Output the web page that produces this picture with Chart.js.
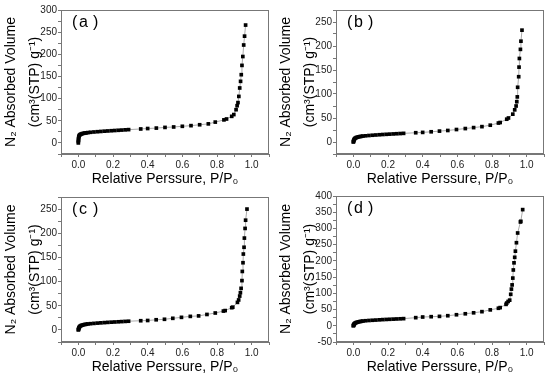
<!DOCTYPE html>
<html>
<head>
<meta charset="utf-8">
<script src="https://cdn.jsdelivr.net/npm/chart.js@4.4.0/dist/chart.umd.min.js"></script>
<style>
body { margin: 0; background: #fff; }
#wrap { position: relative; width: 550px; height: 377px; }
canvas { position: absolute; }
</style>
</head>
<body>
<div id="wrap">
  <canvas id="pa" width="275" height="189" style="left:0;top:0"></canvas>
  <canvas id="pb" width="275" height="189" style="left:275px;top:0"></canvas>
  <canvas id="pc" width="275" height="188" style="left:0;top:189px"></canvas>
  <canvas id="pd" width="275" height="188" style="left:275px;top:189px"></canvas>
</div>
<script>
// relative pressure P/P0 and adsorbed volume for each sample
var xA = [0, 0, 0.001, 0.001, 0.002, 0.003, 0.005, 0.008, 0.012, 0.017, 0.023, 0.03, 0.038, 0.046, 0.055,
  0.07, 0.09, 0.11, 0.13, 0.15, 0.17, 0.19, 0.21, 0.23, 0.25, 0.27, 0.29, 0.36, 0.40, 0.45, 0.50, 0.55,
  0.60, 0.65, 0.70, 0.75, 0.79, 0.84, 0.855, 0.885, 0.897, 0.91, 0.916, 0.921, 0.926, 0.931, 0.936,
  0.94, 0.944, 0.949, 0.954, 0.959, 0.965];
var yA = [0, 3, 6, 9, 12, 14.5, 16.5, 18, 19.2, 20.2, 21, 21.7, 22.3, 22.8, 23.3,
  24, 24.7, 25.3, 25.9, 26.5, 27, 27.5, 28, 28.5, 29, 29.5, 30, 31.5, 32.5, 33.5, 35, 36,
  37.5, 39, 41, 43, 47, 52, 54, 60, 64, 75, 84, 91, 105, 124, 139,
  154, 175, 195, 221, 241, 266];

var xB = [0, 0.001, 0.002, 0.003, 0.005, 0.008, 0.012, 0.017, 0.023, 0.03, 0.038, 0.046, 0.055,
  0.07, 0.09, 0.11, 0.13, 0.15, 0.17, 0.19, 0.21, 0.23, 0.25, 0.27, 0.29, 0.36, 0.40, 0.449, 0.497,
  0.545, 0.595, 0.646, 0.694, 0.742, 0.79, 0.837, 0.847, 0.885, 0.895, 0.92, 0.931, 0.939, 0.943,
  0.946, 0.948, 0.954, 0.956, 0.958, 0.964, 0.967, 0.973];
var yB = [0, 1.2, 2.5, 4, 5.5, 7, 8.2, 9.2, 10, 10.7, 11.3, 11.8, 12.3,
  12.9, 13.5, 14.1, 14.6, 15.1, 15.6, 16, 16.4, 16.8, 17.2, 17.6, 18, 19.3, 20, 21.3, 22.7,
  24, 26, 28, 30, 32, 35, 39.5, 40.6, 47.5, 50, 58, 67, 75, 84,
  94, 114, 136, 156, 174, 193, 210, 233];

var xC = [0, 0.001, 0.002, 0.003, 0.005, 0.008, 0.012, 0.017, 0.023, 0.03, 0.038, 0.046, 0.055,
  0.07, 0.09, 0.11, 0.13, 0.15, 0.17, 0.19, 0.21, 0.23, 0.25, 0.27, 0.29, 0.36, 0.40, 0.449, 0.497,
  0.545, 0.595, 0.646, 0.694, 0.742, 0.79, 0.837, 0.847, 0.885, 0.891, 0.918, 0.925, 0.931, 0.935,
  0.939, 0.944, 0.946, 0.95, 0.952, 0.956, 0.958, 0.962, 0.965, 0.973];
var yC = [0, 1.2, 2.5, 4, 5.5, 7, 8.2, 9.2, 10, 10.7, 11.3, 11.8, 12.3,
  12.9, 13.5, 14.1, 14.6, 15.1, 15.6, 16, 16.4, 16.8, 17.2, 17.6, 18, 19, 19.5, 21, 22,
  24, 26, 28, 29, 32, 35, 39, 40, 46, 47, 57, 62, 70, 77,
  86, 102, 121, 139, 157, 171, 190, 210, 227, 250];

var xD = [0, 0.001, 0.002, 0.003, 0.005, 0.008, 0.012, 0.017, 0.023, 0.03, 0.038, 0.046, 0.055,
  0.07, 0.09, 0.11, 0.13, 0.15, 0.17, 0.19, 0.21, 0.23, 0.25, 0.27, 0.29, 0.36, 0.40, 0.449, 0.497,
  0.545, 0.595, 0.646, 0.694, 0.742, 0.79, 0.837, 0.847, 0.881, 0.885, 0.893, 0.902, 0.908, 0.912,
  0.916, 0.92, 0.923, 0.927, 0.931, 0.935, 0.941, 0.948, 0.964, 0.966, 0.977];
var yD = [0, 1.2, 2.5, 3.8, 5.5, 7.2, 8.7, 10, 11, 12, 13, 13.8, 14.5,
  15.5, 16.3, 17, 17.6, 18.3, 19, 19.5, 20, 20.5, 21, 21.5, 22, 25, 27, 28, 29,
  31, 34, 37, 40, 43.5, 49, 54, 56, 66, 70, 75, 79, 97, 113,
  126, 147, 172, 194, 211, 230, 256, 286, 320, 322, 358];

var xTitle = 'Relative Perssure, P/P\u2080';
var yTitle = ['N\u2082 Absorbed Volume', '(cm\u00b3(STP) g\u207b\u00b9)'];
var FONT = '"Liberation Sans", Arial, sans-serif';

// draws the top/right frame and the panel letter, written as "( a )" with wide parentheses
var framePlugin = {
  id: 'frame',
  afterDraw: function(chart, args, opts) {
    var a = chart.chartArea, ctx = chart.ctx;
    ctx.save();
    ctx.strokeStyle = '#777';
    ctx.lineWidth = 1;
    ctx.strokeRect(Math.round(a.left) + 0.5, Math.round(a.top) + 0.5,
      Math.round(a.right - a.left) - 1, Math.round(a.bottom - a.top) - 1);
    ctx.fillStyle = '#000';
    ctx.font = '16px ' + FONT;
    ctx.textBaseline = 'middle';
    ctx.fillText('(', a.left + 11, a.top + 13);
    ctx.fillText(opts.letter, a.left + 18, a.top + 13);
    ctx.fillText(')', a.left + 32, a.top + 13);
    ctx.restore();
  }
};

function makePanel(id, letter, xs, ys, yMin, yMax, padTop) {
  var pts = [];
  for (var i = 0; i < xs.length; i++) pts.push({x: xs[i], y: ys[i]});
  var ctx = document.getElementById(id).getContext('2d');
  return new Chart(ctx, {
    type: 'line',
    data: {
      datasets: [{
        data: pts,
        borderColor: '#aaa',
        borderWidth: 1,
        pointStyle: 'rect',
        pointRadius: 2.6,
        pointBorderWidth: 0,
        pointBackgroundColor: '#000',
        tension: 0
      }]
    },
    options: {
      responsive: false,
      animation: false,
      events: [],
      layout: { padding: { left: 0, right: 6, top: padTop, bottom: 0 } },
      plugins: { legend: { display: false }, tooltip: { enabled: false }, frame: { letter: letter } },
      scales: {
        x: {
          type: 'linear', min: -0.1, max: 1.1,
          afterFit: function(s) { s.height = 35; },
          ticks: {
            stepSize: 0.1, autoSkip: false, maxRotation: 0, padding: 2, color: '#222',
            font: { family: FONT, size: 10 },
            callback: function(v) {
              var k = Math.round(v * 10);
              return (k >= 0 && k <= 10 && k % 2 === 0) ? (k / 10).toFixed(1) : '';
            }
          },
          grid: { drawOnChartArea: false, tickLength: 3, color: '#777' },
          border: { color: '#777' },
          title: { display: true, text: xTitle, color: '#000', padding: { top: 0, bottom: 1 },
            font: { family: FONT, size: 14 } }
        },
        y: {
          type: 'linear', min: yMin, max: yMax,
          afterFit: function(s) { s.width = 61; },
          ticks: {
            stepSize: 25, autoSkip: false, padding: 1, color: '#222',
            font: { family: FONT, size: 10 },
            callback: function(v) { return v % 50 === 0 ? v : ''; }
          },
          grid: { drawOnChartArea: false, tickLength: 3, color: '#777' },
          border: { color: '#777' },
          title: { display: true, text: yTitle, color: '#000', padding: 0,
            font: { family: FONT, size: 14, lineHeight: 1.65 } }
        }
      }
    },
    plugins: [framePlugin]
  });
}

makePanel('pa', 'a', xA, yA, -25, 300, 10);
makePanel('pb', 'b', xB, yB, -25, 275, 10);
makePanel('pc', 'c', xC, yC, -25, 275, 8);
makePanel('pd', 'd', xD, yD, -50, 400, 7);
</script>
</body>
</html>
